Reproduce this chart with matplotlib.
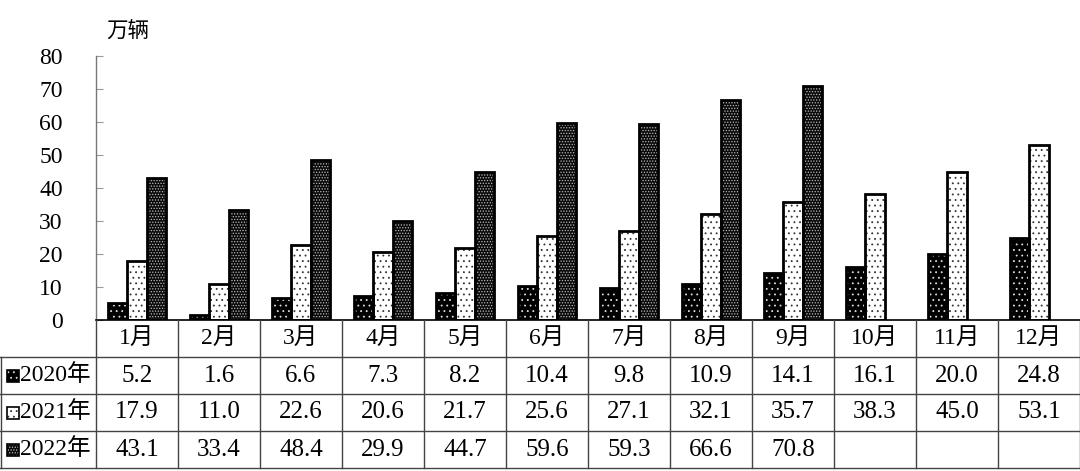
import numpy as np
import matplotlib
matplotlib.use("Agg")
import matplotlib.pyplot as plt
from matplotlib.patches import Rectangle

months = ["1月", "2月", "3月", "4月", "5月", "6月", "7月", "8月", "9月", "10月", "11月", "12月"]
series_names = ["2020年", "2021年", "2022年"]
v2020 = [5.2, 1.6, 6.6, 7.3, 8.2, 10.4, 9.8, 10.9, 14.1, 16.1, 20.0, 24.8]
v2021 = [17.9, 11.0, 22.6, 20.6, 21.7, 25.6, 27.1, 32.1, 35.7, 38.3, 45.0, 53.1]
v2022 = [43.1, 33.4, 48.4, 29.9, 44.7, 59.6, 59.3, 66.6, 70.8]
yticks = [0, 10, 20, 30, 40, 50, 60, 70, 80]
unit_label = "万辆"

series = [v2020, v2021, v2022]
# style: (face, dot colour, hatch)
styles = [("black", "#dddddd", "..."), ("white", "#333333", "..."), ("#0a0a0a", "#bbbbbb", "......")]

W, H = 1080, 471
fig = plt.figure(figsize=(W / 100, H / 100), dpi=100)
plt.rcParams['hatch.linewidth'] = 0.6

serif = ['Liberation Serif', 'Noto Sans CJK SC']
cjk = ['Noto Sans CJK SC', 'DejaVu Sans']

ax_left, ax_right = 96, 1080
ax_top, ax_bot = 56, 320
ax = fig.add_axes([ax_left / W, (H - ax_bot) / H, (ax_right - ax_left) / W, (ax_bot - ax_top) / H])
ax.set_xlim(-0.5, 11.5)
ax.set_ylim(0, 80)

bw = 0.232
offs = [-0.24, 0.0, 0.24]
for vals, off, (fc, dc, hatch) in zip(series, offs, styles):
    x = np.arange(len(vals)) + off
    ax.bar(x, vals, width=bw, color=fc, edgecolor=dc, hatch=hatch, linewidth=0, zorder=2)
    ax.bar(x, vals, width=bw, facecolor='none', edgecolor='black', linewidth=2.0, zorder=3)

for s in ['top', 'right', 'bottom']:
    ax.spines[s].set_visible(False)
ax.spines['left'].set_color('#777777')
ax.spines['left'].set_linewidth(1.0)
ax.set_xticks([])
ax.set_yticks(yticks)
ax.set_yticklabels([str(t) for t in yticks], family=serif, fontsize=17)
ax.tick_params(axis='y', direction='in', length=5, color='#999999', pad=24)

fig.text(106 / W, 1 - 32 / H, unit_label, family=cjk, fontsize=15.5, ha='left', va='center')

# table
tbl_top, tbl_bot = 320, 468
tax = fig.add_axes([0, (H - tbl_bot) / H, 1, (tbl_bot - tbl_top) / H])
colw = (ax_right - ax_left) / 12.0
x0 = -0.5 - ax_left / colw
tax.set_xlim(x0, 11.5)
tax.set_ylim(4, 0)
tax.axis('off')
lc = '#444444'
tax.plot([-0.5, 11.5], [0, 0], color='black', lw=1.2, clip_on=False)
for r in [1, 2, 3, 4]:
    tax.plot([x0, 11.5], [r, r], color=lc, lw=1.0, clip_on=False)
for i in range(13):
    tax.plot([i - 0.5, i - 0.5], [0, 4], color=lc, lw=1.0, clip_on=False)
tax.plot([x0 + 0.5 / colw, x0 + 0.5 / colw], [1, 4], color=lc, lw=1.0, clip_on=False)

for i, m in enumerate(months):
    tax.text(i, 0.5, m, family=serif, fontsize=17, ha='center', va='center')

rowh = (tbl_bot - tbl_top) / 4.0
sq = 12
for r, (name, vals, (fc, dc, hatch)) in enumerate(zip(series_names, series, styles)):
    y = r + 1.5
    tax.add_patch(Rectangle((x0 + 7 / colw, y - (sq / 2) / rowh), sq / colw, sq / rowh,
                            facecolor=fc, edgecolor=dc, hatch=hatch, lw=0))
    tax.add_patch(Rectangle((x0 + 7 / colw, y - (sq / 2) / rowh), sq / colw, sq / rowh,
                            facecolor='none', edgecolor='black', lw=1.2))
    tax.text(x0 + 20 / colw, y, name, family=serif, fontsize=17, ha='left', va='center')
    for i, v in enumerate(vals):
        tax.text(i, y, f"{v:.1f}", family=serif, fontsize=18, ha='center', va='center')

fig.savefig("out.png", dpi=100)
